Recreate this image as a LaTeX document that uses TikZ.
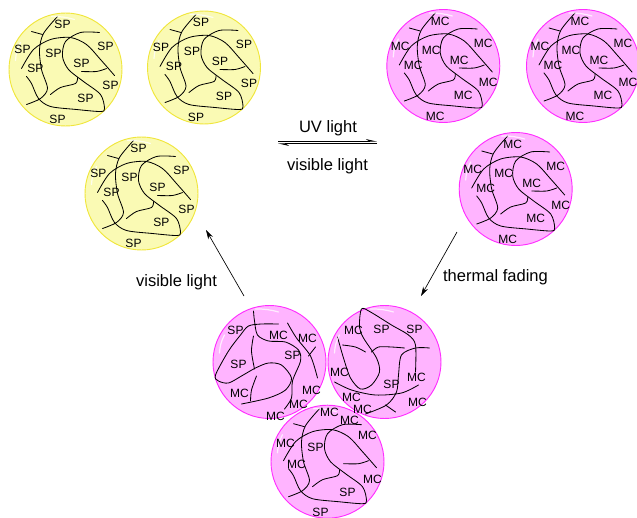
\documentclass[tikz,border=0pt]{standalone}
\usepackage{fontspec}
\setmainfont{Liberation Sans}
\usepackage{tikz}
\usetikzlibrary{arrows.meta,calc}
\definecolor{spfill}{HTML}{FAFAB4}
\definecolor{sprim}{HTML}{F0E63C}
\definecolor{mcfill}{HTML}{FFB4FF}
\definecolor{mcrim}{HTML}{FF2EFF}
\newcommand{\putlabels}[2]{%
  \foreach [count=\i] \dx/\dy/\txt in {#2}
    \node[lbl] (#1-\i) at ($(#1)+(\dx,\dy)$) {\txt};}
\newcommand{\stdlabels}[2]{%
  \putlabels{#1}{-3/-45/#2,-43/-20/#2,-12/-16/#2,-30/-1/#2,40/-23/#2,
    16/-6/#2,45/16/#2,20/29/#2,-8/50/#2}}

\begin{document}
\begin{tikzpicture}[
  x=0.75pt,y=-0.75pt,
  font=\fontsize{12.4pt}{14pt}\selectfont,
  sphere/.style={circle,draw,line width=0.7pt,inner sep=0pt,
                 minimum size=84.75pt},
  spsphere/.style={sphere,draw=sprim,fill=spfill},
  mcsphere/.style={sphere,draw=mcrim,fill=mcfill},
  chain/.style={line width=0.62pt,black,line cap=round},
  lbl/.style={font=\fontsize{9pt}{10pt}\selectfont,inner sep=0pt},
  txt/.style={inner sep=0pt},
  arr/.style={-{Stealth[length=7pt,width=4pt]},line width=0.5pt},
  harp/.style={-{Stealth[harpoon,length=7pt,width=3.2pt]},line width=0.6pt},
  shine/.pic={
    \draw[white,opacity=0.75,line width=0.9pt,line cap=round]
      (-50,-9) to[bend left=12] (-45,-27);
    \draw[white,opacity=0.75,line width=0.9pt,line cap=round]
      (-14,-53) to[bend left=8] (9,-50);
  },
  % the network drawn in most of the spheres
  chainset/.pic={
    \draw[chain] plot[smooth] coordinates {(-8,-53) (-22,-36) (-26,-20) (-24,0)
      (-18,19) (-25,29) (-39,35)};
    \draw[chain] (-34,-38) -- (-23,-35);
    \draw[chain] plot[smooth] coordinates {(-44,-1) (-32,-20) (-15,-30) (5,-32)
      (21,-25) (35,-10) (49,6)};
    \draw[chain] plot[smooth] coordinates {(34,-37) (15,-37) (0,-28) (-3,-13)
      (3,0) (18,12) (35,25) (39,39) (35,42) (11,40) (-15,37) (-27,29) (-34,14)
      (-39,7)};
    \draw[chain] plot[smooth] coordinates {(16,2) (31,2) (41,-1)};
    \draw[chain] plot[smooth] coordinates {(12,8) (10,14) (-5,18) (-15,25)};
  },
  % the two faded spheres have their own networks
  chainsetL/.pic={
    \draw[chain] plot[smooth] coordinates {(-16,-51) (-15,-41) (-12,-27) (-1,-21)
      (16,-20) (29,-12) (31,-1) (23,19) (22,36) (15,47)};
    \draw[chain] plot[smooth] coordinates {(9,-38) (-8,-38) (-21,-36) (-29,-27)
      (-41,-11) (-54,13) (-51,19) (-41,21) (-28,14) (-14,6) (-1,1) (12,3)
      (22,16) (16,28) (-1,36) (-28,42)};
    \draw[chain] plot[smooth] coordinates {(-16,-26) (-18,-11) (-15,7)};
    \draw[chain] plot[smooth] coordinates {(-13,14) (-18,28) (-19,39)};
    \draw[chain] plot[smooth] coordinates {(18,-39) (27,-24) (41,-6) (48,16)};
    \draw[chain] (46,-15) -- (39,-6);
  },
  chainsetR/.pic={
    \draw[chain] plot[smooth] coordinates {(31,10) (31,-17) (24,-27) (7,-37)
      (-14,-50) (-23,-53) (-25,-35) (-21,-24) (-8,-4) (-5,10) (-13,23) (-24,27)
      (-34,16) (-41,-4) (-47,-25)};
    \draw[chain] plot[smooth] coordinates {(-42,-17) (-29,-15) (-19,-10)};
    \draw[chain] plot[smooth] coordinates {(-13,-10) (-6,-15) (7,-15) (20,-14)};
    \draw[chain] plot[smooth] coordinates {(-50,20) (-33,28) (-9,33) (17,31)
      (34,23)};
    \draw[chain] plot[smooth] coordinates {(45,-14) (31,-14) (17,-7) (14,13)
      (12,30) (2,43) (-19,52)};
    \draw[chain] (1,43) -- (11,50);
  }
]
\useasboundingbox (0,0) rectangle (637,518);

% SP spheres
\node[spsphere] (Y1) at (65.5,69.5) {};
\node[spsphere] (Y2) at (204,67.5) {};
\node[spsphere] (Y3) at (141.5,193.5) {};
% MC spheres
\node[mcsphere] (M1) at (443.3,66) {};
\node[mcsphere] (M2) at (583,66) {};
\node[mcsphere] (M3) at (515.7,189) {};
% faded spheres
\node[mcsphere] (F3) at (327.5,461.7) {};
\node[mcsphere] (F1) at (269.5,362) {};
\node[mcsphere] (F2) at (384.5,362) {};

\foreach \s in {Y1,Y2,Y3,M1,M2,M3,F3}
  \path (\s) pic {chainset} pic {shine};
\path (F1) pic {chainsetL} pic {shine};
\path (F2) pic {chainsetR} pic {shine};

\stdlabels{Y1}{SP}
\stdlabels{Y2}{SP}
\stdlabels{Y3}{SP}
\stdlabels{M1}{MC}
\stdlabels{M2}{MC}
\stdlabels{M3}{MC}
\putlabels{F1}{-34/-32/SP,9/-27/MC,38/-24/MC,23/-7/SP,-31/2/SP,-30/31/MC,
  42/28/MC,29/42/MC,6/54/MC}
\putlabels{F2}{-31/-32/MC,-3/-33/SP,30/-33/SP,-45/10/MC,7/22/SP,32/15/MC,
  -33/35/MC,-22/47/MC,33/40/MC}
\putlabels{F3}{2/-49/MC,22/-41/MC,40/-26/MC,-12/-14/SP,-42/-18/MC,-31/3/MC,
  45/18/MC,20/31/SP,-7/50.5/SP}

% Labels on the arrows
\node[txt] (uv)   at (328,128.5) {UV light};
\node[txt] (vis)  at (327.5,166.5) {visible light};
\node[txt] (back) at (176.5,282.5) {visible light};
\node[txt] (fade) at (495.5,277.5) {thermal fading};

% Arrows
\coordinate (eqL) at (278,142.5);
\coordinate (eqR) at (377,142.5);
\draw[harp] ($(eqL)+(0,-1.3)$) -- ($(eqR)+(0,-1.3)$);
\draw[harp] ($(eqR)+(0,1.3)$) -- ($(eqL)+(0,1.3)$);
\coordinate (fadeS) at (457,232);
\coordinate (fadeE) at (421,296);
\draw[arr] (fadeS) -- (fadeE);
\coordinate (backS) at (244,296);
\coordinate (backE) at (206,230);
\draw[arr] (backS) -- (backE);

\end{tikzpicture}
\end{document}
